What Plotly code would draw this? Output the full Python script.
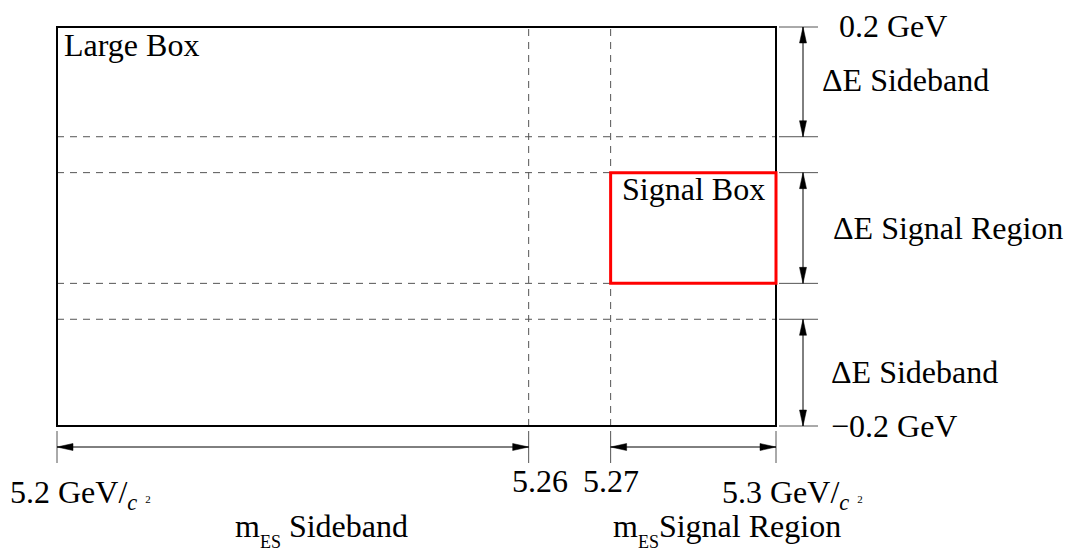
import numpy as np
import plotly.graph_objects as go

# ---- data (boundaries of the regions) ----
mes_edges = [5.2, 5.26, 5.27, 5.3]          # mES boundaries (GeV/c^2)
mes_tick_text = ["5.2 GeV/", "5.26", "5.27", "5.3 GeV/"]
# the diagram is schematic: relative drawing position of each mES boundary
mes_frac = [0.0, 0.656, 0.770, 1.0]
de_edges = [-0.2, -0.093, -0.057, 0.054, 0.09, 0.2]   # Delta E boundaries (GeV)
de_signal = [-0.057, 0.054]
mes_signal = [5.27, 5.3]
de_regions = [("ΔE Sideband", 0.09, 0.2), ("ΔE Signal Region", -0.057, 0.054),
              ("ΔE Sideband", -0.2, -0.093)]
mes_regions = [("m<sub><sub><span style='font-size:18px'>ES</span></sub></sub> Sideband", 5.2, 5.26),
               ("m<sub><sub><span style='font-size:18px'>ES</span></sub></sub>Signal Region", 5.27, 5.3)]


def X(m):
    return float(np.interp(m, mes_edges, mes_frac))


FONT = dict(family="Liberation Serif", size=32, color="black")
GRAY = "#555555"
shapes = []
ann = []

xl, xr = X(mes_edges[0]), X(mes_edges[-1])
ylo, yhi = de_edges[0], de_edges[-1]

# inner dashed lines
for d in de_edges[1:-1]:
    shapes.append(dict(type="line", x0=xl, x1=xr, y0=d, y1=d,
                       line=dict(color=GRAY, width=1, dash="7px,6px")))
for m in mes_edges[1:-1]:
    shapes.append(dict(type="line", x0=X(m), x1=X(m), y0=ylo, y1=yhi,
                       line=dict(color=GRAY, width=1, dash="7px,6px")))
# large box
shapes.append(dict(type="rect", x0=xl, x1=xr, y0=ylo, y1=yhi,
                   line=dict(color="black", width=2)))
# signal box
shapes.append(dict(type="rect", x0=X(mes_signal[0]), x1=X(mes_signal[1]),
                   y0=de_signal[0], y1=de_signal[1], line=dict(color="#ff0000", width=3)))
# extension lines on the right
for d in de_edges:
    shapes.append(dict(type="line", xsizemode="pixel", xanchor=xr, x0=3, x1=42,
                       y0=d, y1=d, line=dict(color=GRAY, width=1)))
# extension lines at the bottom
for m in mes_edges:
    shapes.append(dict(type="line", ysizemode="pixel", yanchor=ylo, y0=-5, y1=-37,
                       x0=X(m), x1=X(m), line=dict(color=GRAY, width=1)))

HL, HW = 16, 3.5  # arrowhead length / half-width in px


def vhead(y, up):
    s = 1 if up else -1
    return dict(type="path", xsizemode="pixel", ysizemode="pixel", xanchor=xr, yanchor=y,
                path=f"M27,0 L{27-HW},{-s*HL} L{27+HW},{-s*HL} Z",
                fillcolor="black", line=dict(color="black", width=0.5))


def hhead(x, right):
    s = 1 if right else -1
    return dict(type="path", xsizemode="pixel", ysizemode="pixel", xanchor=x, yanchor=ylo,
                path=f"M0,-21 L{-s*HL},{-21+HW} L{-s*HL},{-21-HW} Z",
                fillcolor="black", line=dict(color="black", width=0.5))


for label, a, b in de_regions:
    shapes.append(dict(type="line", xsizemode="pixel", xanchor=xr, x0=27, x1=27,
                       y0=a, y1=b, line=dict(color="black", width=1)))
    shapes.append(vhead(b, True))
    shapes.append(vhead(a, False))
for label, a, b in mes_regions:
    shapes.append(dict(type="line", ysizemode="pixel", yanchor=ylo, y0=-21, y1=-21,
                       x0=X(a), x1=X(b), line=dict(color="black", width=1)))
    shapes.append(hhead(X(a), False))
    shapes.append(hhead(X(b), True))


def text(t, x, y, xs, ys, xa="left"):
    ann.append(dict(text=t, x=x, y=y, xref="x", yref="y", xshift=xs, yshift=ys,
                    xanchor=xa, yanchor="middle", showarrow=False, font=FONT))


text("Large Box", xl, yhi, 5, -18)
text("Signal Box", X(mes_signal[0]), de_signal[1], 9, -16)
text("0.2 GeV", xr, yhi, 61, 1)
text("−0.2 GeV", xr, ylo, 53, 0)
text(de_regions[0][0], xr, yhi, 44, -53)
text(de_regions[1][0], xr, yhi, 55, -201)
text(de_regions[2][0], xr, yhi, 53, -345)

c2 = "<sub><i>c</i></sub> <span style='font-size:11px'>2</span>"
text(mes_tick_text[0] + c2, xl, ylo, -49, -68)
text(mes_tick_text[1], X(mes_edges[1]), ylo, 11, -55, "center")
text(mes_tick_text[2], X(mes_edges[2]), ylo, 0, -55, "center")
text(mes_tick_text[3] + c2, xr, ylo, -56, -68)
text(mes_regions[0][0], X(mes_regions[0][1]), ylo, 176, -104)
text(mes_regions[1][0], X(mes_regions[1][1]), ylo, 0, -104)

fig = go.Figure(go.Scatter(x=[xl, xr], y=[ylo, yhi], mode="markers",
                           marker=dict(opacity=0), hoverinfo="skip"))
fig.update_layout(
    width=1066, height=548, margin=dict(l=0, r=0, t=0, b=0),
    font=dict(family="Liberation Serif"),
    paper_bgcolor="white", plot_bgcolor="white", showlegend=False,
    xaxis=dict(range=[-57 / 719, 1009 / 719], visible=False, fixedrange=True),
    yaxis=dict(range=[0.2 - 521 / 997.5, 0.2 + 27 / 997.5], visible=False, fixedrange=True),
    shapes=shapes, annotations=ann,
)
fig.write_html("out.html", config=dict(displayModeBar=False))

# remove the default page margin so the figure fills the window exactly
with open("out.html", encoding="utf-8") as f:
    html = f.read()
html = html.replace("<body>", '<body style="margin:0;overflow:hidden">', 1)
html = html.replace("<head>", '<head><style>html,body{margin:0;padding:0;overflow:hidden}</style>', 1)
with open("out.html", "w", encoding="utf-8") as f:
    f.write(html)
